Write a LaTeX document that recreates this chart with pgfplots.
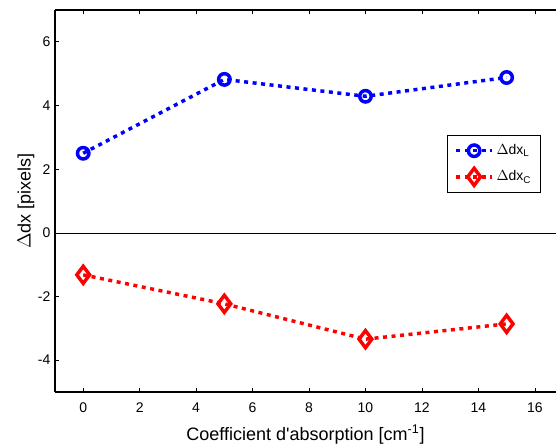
\documentclass[border=0pt]{standalone}
\usepackage{fontspec}
\setmainfont{Liberation Sans}
\usepackage{pgfplots}
\pgfplotsset{compat=1.18}
\begin{document}
\begin{tikzpicture}
\begin{axis}[
  scale only axis,
  width=375.75pt, height=286.5pt,
  xmin=-1, xmax=16.75, ymin=-5, ymax=7,
  axis x line=box, axis y line=left,
  axis line style={-, line width=0.9pt},
  xtick={0,2,...,16}, ytick={-4,-2,0,2,4,6},
  tick align=inside, major tick length=3pt,
  tick style={black, line width=0.5pt},
  /pgf/number format/assume math mode=true,
  ticklabel style={font=\fontsize{10.5}{12}\selectfont},
  xticklabel style={anchor=base, yshift=-15pt},
  xlabel={Coefficient d\textquotesingle absorption [cm\textsuperscript{-1}]},
  ylabel={$\Delta$dx [pixels]},
  label style={font=\fontsize{13.5}{15}\selectfont},
  xlabel style={at={(axis description cs:0.5,-0.1257)}, anchor=base},
  ylabel style={at={(axis description cs:-0.058,0.5)}, anchor=center},
  legend style={at={(axis description cs:0.970,0.673)}, anchor=north east,
    font=\fontsize{10.5}{12}\selectfont, draw=black, line width=0.6pt,
    row sep=6.5pt, inner xsep=5pt, inner ysep=5pt},
  legend cell align=left,
  legend image code/.code={%
    \draw[mark repeat=2,mark phase=2] plot coordinates {(0pt,0pt) (13.5pt,0pt) (27pt,0pt)};},
  clip=false,
]
\addplot[black, line width=0.5pt, forget plot] coordinates {(-1,0) (16.75,0)};
\addplot[blue, dash pattern=on 3pt off 3.4pt, line width=2.6pt, mark=o, mark size=4.3pt, mark options={solid, line width=2.6pt}]
  coordinates {(0,2.5) (5,4.82) (10,4.29) (15,4.88)};
\addlegendentry{$\Delta$dx\textsubscript{L}}
\addplot[red, dash pattern=on 3pt off 3.4pt, line width=2.6pt, mark=diamond, mark size=6.4pt, mark options={solid, line width=2.6pt}]
  coordinates {(0,-1.32) (5,-2.23) (10,-3.34) (15,-2.86)};
\addlegendentry{$\Delta$dx\textsubscript{C}}
\end{axis}
\pgfresetboundingbox
\path (current axis.south west) ++(-41.25pt,-39.75pt) coordinate (bbA);
\path (current axis.north east) ++(0pt,7.5pt) coordinate (bbB);
\useasboundingbox (bbA) rectangle (bbB);
\end{tikzpicture}
\end{document}
